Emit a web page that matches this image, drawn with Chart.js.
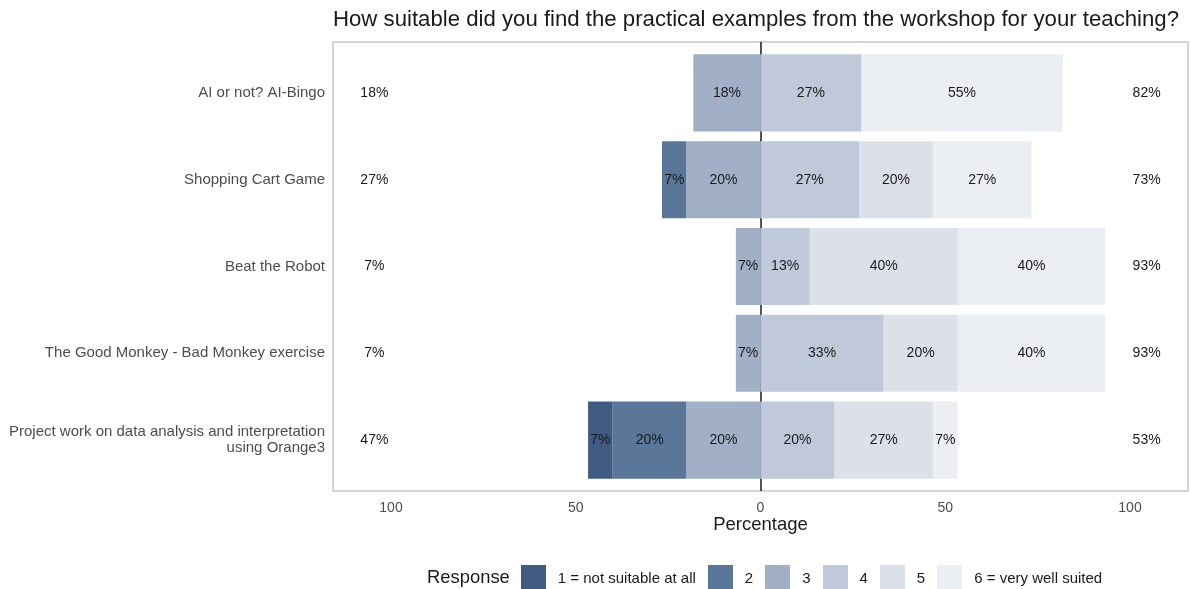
<!DOCTYPE html>
<html>
<head>
<meta charset="utf-8">
<title>Practical examples - suitability</title>
<script src="https://cdn.jsdelivr.net/npm/chart.js@4.4.0/dist/chart.umd.min.js"></script>
<style>
  body { margin: 0; background: #fff; }
  #wrap { position: relative; width: 1191px; height: 589px; }
  #legend {
    position: absolute; left: 427px; top: 565px; height: 24px;
    display: flex; align-items: center;
    font-family: 'Liberation Sans', Arial, sans-serif; font-size: 15px; color: #1a1a1a;
  }
  #legend .ttl { font-size: 18.4px; margin-right: 11px; }
  #legend .box { width: 25px; height: 24px; margin-right: 12px; }
  #legend .lbl { margin-right: 12px; }
</style>
</head>
<body>
<div id="wrap">
  <canvas id="myChart" width="1191" height="589"></canvas>
  <div id="legend"></div>
</div>
<script>
'use strict';
// chart data
var chartTitle = 'How suitable did you find the practical examples from the workshop for your teaching?';
var categories = [
  'AI or not? AI-Bingo',
  'Shopping Cart Game',
  'Beat the Robot',
  'The Good Monkey - Bad Monkey exercise',
  ['Project work on data analysis and interpretation', 'using Orange3']
];
var responseLabels = ['1 = not suitable at all', '2', '3', '4', '5', '6 = very well suited'];
// percent per response level, same order as categories
var resp1 = [0, 0, 0, 0, 6.67];
var resp2 = [0, 6.67, 0, 0, 20];
var resp3 = [18.18, 20, 6.67, 6.67, 20];
var resp4 = [27.27, 26.67, 13.33, 33.33, 20];
var resp5 = [0, 20, 40, 20, 26.67];
var resp6 = [54.55, 26.67, 40, 40, 6.67];
var xTickValues = [-100, -50, 0, 50, 100];
var responseColors = ['#405c82', '#5a7699', '#a1afc7', '#bfc9da', '#dce0e9', '#ebeef2'];

var allResp = [resp1, resp2, resp3, resp4, resp5, resp6];
var sideOffset = 104.5;
var fontFam = "'Liberation Sans', Arial, sans-serif";

//totals for the side labels
var leftTotals = [];
var rightTotals = [];
for (var i = 0; i < categories.length; i++) {
  leftTotals.push(Math.round(resp1[i] + resp2[i] + resp3[i]));
  rightTotals.push(Math.round(resp4[i] + resp5[i] + resp6[i]));
}

// negatives stack outward from zero in dataset order, so 3,2,1 first
var stackOrder = [2, 1, 0, 3, 4, 5];
var datasets = [];
stackOrder.forEach(function (k) {
  var sign = k < 3 ? -1 : 1;
  datasets.push({
    label: responseLabels[k],
    data: allResp[k].map(function (v) { return sign * v; }),
    backgroundColor: responseColors[k],
    borderWidth: 0,
    barPercentage: 0.89,
    categoryPercentage: 1
  });
});

var panelPlugin = {
  id: 'panel',
  beforeDraw: function (chart) {
    var ctx = chart.ctx;
    var a = chart.chartArea;
    ctx.save();
    ctx.fillStyle = '#1a1a1a';
    ctx.font = '22.2px ' + fontFam;
    ctx.textBaseline = 'middle';
    ctx.textAlign = 'left';
    ctx.fillText(chartTitle, a.left, 20);
    ctx.strokeStyle = '#bdbdbd';
    ctx.lineWidth = 1.3;
    ctx.strokeRect(a.left, 42, a.right - a.left, 491 - 42);
    ctx.restore();
  },
  beforeDatasetsDraw: function (chart) {
    var ctx = chart.ctx;
    var x0 = Math.round(chart.scales.x.getPixelForValue(0));
    ctx.save();
    ctx.strokeStyle = '#1a1a1a';
    ctx.lineWidth = 1.5;
    ctx.beginPath();
    ctx.moveTo(x0, 42);
    ctx.lineTo(x0, 491);
    ctx.stroke();
    ctx.restore();
  },
  afterDatasetsDraw: function (chart) {
    var ctx = chart.ctx;
    ctx.save();
    ctx.font = '14px ' + fontFam;
    ctx.fillStyle = '#1a1a1a';
    ctx.textAlign = 'center';
    ctx.textBaseline = 'middle';
    chart.data.datasets.forEach(function (ds, di) {
      var meta = chart.getDatasetMeta(di);
      meta.data.forEach(function (bar, j) {
        var v = Math.abs(ds.data[j]);
        if (v > 0) {
          ctx.fillText(Math.round(v) + '%', (bar.x + bar.base) / 2, bar.y);
        }
      });
    });
    var xs = chart.scales.x;
    var ys = chart.scales.y;
    for (var j = 0; j < categories.length; j++) {
      var y = ys.getPixelForValue(j);
      ctx.fillText(leftTotals[j] + '%', xs.getPixelForValue(-sideOffset), y);
      ctx.fillText(rightTotals[j] + '%', xs.getPixelForValue(sideOffset), y);
    }
    ctx.restore();
  }
};

var ctx = document.getElementById('myChart').getContext('2d');
var chart = new Chart(ctx, {
  type: 'bar',
  data: {
    labels: categories,
    datasets: datasets
  },
  options: {
    indexAxis: 'y',
    responsive: false,
    animation: false,
    layout: { padding: { top: 49.6, bottom: 50.6, left: 0, right: 3 } },
    plugins: {
      legend: { display: false },
      tooltip: { enabled: false }
    },
    scales: {
      x: {
        stacked: true,
        min: -115.7,
        max: 115.7,
        afterBuildTicks: function (scale) {
          scale.ticks = xTickValues.map(function (v) { return { value: v }; });
        },
        afterFit: function (scale) { scale.height = 55; },
        grid: { display: false, drawTicks: false },
        border: { display: false },
        ticks: {
          padding: 16,
          color: '#4d4d4d',
          font: { size: 14, family: fontFam },
          callback: function (value) { return Math.abs(value); }
        },
        title: {
          display: true,
          text: 'Percentage',
          color: '#1a1a1a',
          font: { size: 18.5, family: fontFam },
          padding: { top: 0, bottom: 2 }
        }
      },
      y: {
        stacked: true,
        afterFit: function (scale) { scale.width = 333; },
        grid: { display: false, drawTicks: false },
        border: { display: false },
        ticks: {
          padding: 8,
          color: '#4d4d4d',
          font: { size: 15, family: fontFam, lineHeight: 1.07 }
        }
      }
    }
  },
  plugins: [panelPlugin]
});

//legend in html, 1 to 6
var legendEl = document.getElementById('legend');
var t = document.createElement('span');
t.className = 'ttl';
t.textContent = 'Response';
legendEl.appendChild(t);
for (var k = 0; k < responseLabels.length; k++) {
  var b = document.createElement('span');
  b.className = 'box';
  b.style.background = responseColors[k];
  legendEl.appendChild(b);
  var l = document.createElement('span');
  l.className = 'lbl';
  l.textContent = responseLabels[k];
  legendEl.appendChild(l);
}
</script>
</body>
</html>
